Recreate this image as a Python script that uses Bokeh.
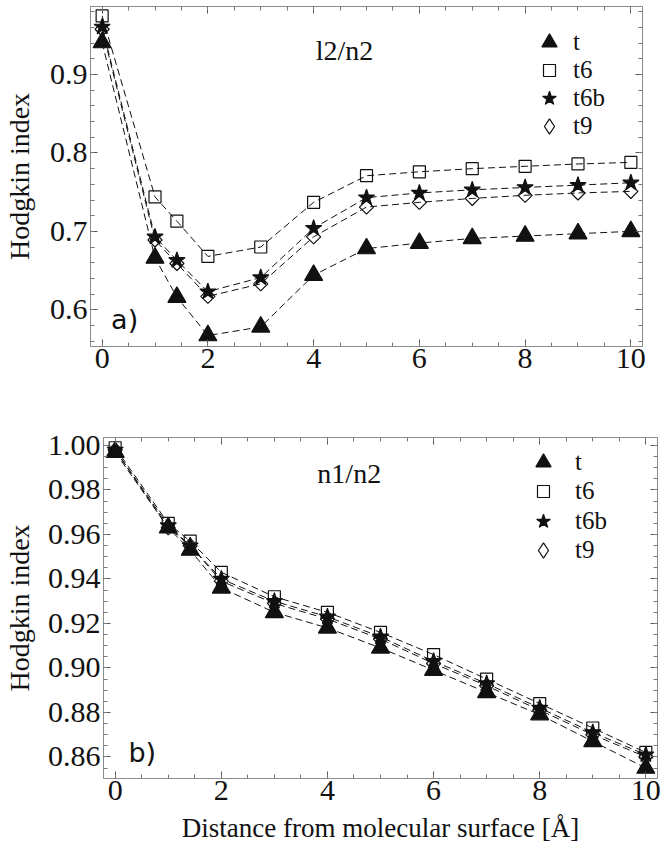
import math
from bokeh.plotting import figure
from bokeh.models import (LinearAxis, FixedTicker, PrintfTickFormatter, Legend, LegendItem,
                          Label, Range1d, CustomJSTickFormatter)
from bokeh.embed import file_html
from bokeh.resources import INLINE

# ---- data ----
distance = [0, 1, 1.414, 2, 3, 4, 5, 6, 7, 8, 9, 10]
series_names = ["t", "t6", "t6b", "t9"]

l2n2_t   = [0.941, 0.666, 0.616, 0.567, 0.578, 0.644, 0.678, 0.685, 0.691, 0.694, 0.697, 0.700]
l2n2_t6  = [0.975, 0.744, 0.713, 0.668, 0.680, 0.737, 0.771, 0.776, 0.780, 0.783, 0.786, 0.788]
l2n2_t6b = [0.961, 0.693, 0.663, 0.623, 0.641, 0.704, 0.743, 0.749, 0.753, 0.756, 0.759, 0.762]
l2n2_t9  = [0.958, 0.689, 0.659, 0.617, 0.633, 0.693, 0.731, 0.737, 0.742, 0.746, 0.749, 0.751]

n1n2_t   = [0.997, 0.963, 0.953, 0.936, 0.925, 0.918, 0.909, 0.899, 0.889, 0.879, 0.867, 0.855]
n1n2_t6  = [0.999, 0.965, 0.957, 0.943, 0.932, 0.925, 0.916, 0.906, 0.895, 0.884, 0.873, 0.862]
n1n2_t6b = [0.998, 0.964, 0.955, 0.940, 0.930, 0.923, 0.914, 0.903, 0.893, 0.882, 0.871, 0.861]
n1n2_t9  = [0.998, 0.963, 0.955, 0.939, 0.929, 0.922, 0.913, 0.902, 0.892, 0.881, 0.870, 0.860]

x_ticks = [0, 2, 4, 6, 8, 10]
x_minor = [i * 0.5 for i in range(-1, 22)]
top_y_ticks = [0.6, 0.7, 0.8, 0.9]
top_y_minor = [round(0.54 + 0.02 * i, 3) for i in range(0, 24)]
bot_y_ticks = [0.86, 0.88, 0.90, 0.92, 0.94, 0.96, 0.98, 1.00]
bot_y_minor = [round(0.845 + 0.005 * i, 4) for i in range(0, 34)]

SERIF = "Liberation Serif"
FRAME = "#8c8c8c"
INK = "#111111"

marker_styles = {
    "t":   dict(marker="triangle", size=18, fill_color=INK, angle=0.0),
    "t6":  dict(marker="square", size=12, fill_color=None, angle=0.0),
    "t6b": dict(marker="star", size=17, fill_color=INK, angle=0.0),
    "t9":  dict(marker="square", size=10, fill_color=None, angle=math.pi / 4),
}
legend_markers = {"t": "triangle", "t6": "square", "t6b": "star", "t9": "diamond"}
legend_glyph_px = {"t": 38, "t6": 30, "t6b": 36, "t9": 38}


def style_axis(ax):
    ax.axis_line_color = FRAME
    ax.major_tick_line_color = "#555555"
    ax.minor_tick_line_color = "#777777"
    ax.major_tick_in = 7
    ax.major_tick_out = 0
    ax.minor_tick_in = 4
    ax.minor_tick_out = 0
    ax.major_label_text_font = SERIF
    ax.major_label_text_font_size = "30px"
    ax.major_label_text_font_style = "normal"
    ax.major_label_text_color = INK
    ax.axis_label_text_font = SERIF
    ax.axis_label_text_font_size = "28px"
    ax.axis_label_text_font_style = "normal"
    ax.axis_label_text_color = INK


def make_panel(ys, yr, yt, ym, yfmt, height, borders, title_text, title_pos, panel_text,
               panel_pos, leg_x, leg_rows, leg_offset, xlabel, ylabel_standoff):
    b_left, b_right, b_top, b_bottom = borders
    p = figure(width=667, height=height, output_backend="svg", toolbar_location=None,
               x_range=Range1d(-0.22, 10.22), y_range=Range1d(*yr),
               min_border_left=b_left, min_border_right=b_right,
               min_border_top=b_top, min_border_bottom=b_bottom)
    p.xgrid.visible = False
    p.ygrid.visible = False
    p.outline_line_color = FRAME
    p.background_fill_color = "white"

    p.xaxis.ticker = FixedTicker(ticks=x_ticks, minor_ticks=x_minor)
    p.yaxis.ticker = FixedTicker(ticks=yt, minor_ticks=ym)
    p.yaxis.formatter = PrintfTickFormatter(format=yfmt)
    for ax in list(p.xaxis) + list(p.yaxis):
        style_axis(ax)
    p.xaxis.major_label_standoff = 2
    p.yaxis.major_label_standoff = 3
    p.yaxis.axis_label = "Hodgkin index"
    p.yaxis.axis_label_standoff = ylabel_standoff
    if xlabel:
        p.xaxis.axis_label = xlabel
        p.xaxis.axis_label_standoff = 10
        p.xaxis.axis_label_text_font_size = "27px"

    blank = CustomJSTickFormatter(code="return ''")
    top_ax = LinearAxis(ticker=FixedTicker(ticks=x_ticks, minor_ticks=x_minor), formatter=blank)
    right_ax = LinearAxis(ticker=FixedTicker(ticks=yt, minor_ticks=ym), formatter=blank)
    for ax in (top_ax, right_ax):
        style_axis(ax)
        ax.major_label_text_font_size = "1px"
        ax.major_label_standoff = 0
        ax.axis_label_standoff = 0
    p.add_layout(top_ax, "above")
    p.add_layout(right_ax, "right")

    for name, y in zip(series_names, ys):
        p.line(distance, y, line_color=INK, line_width=1, line_dash="7 4")
    for i, (name, y) in enumerate(zip(series_names, ys)):
        st = marker_styles[name]
        p.scatter(distance, y, marker=st["marker"], size=st["size"],
                  fill_color=st["fill_color"], line_color=INK,
                  angle=st["angle"], line_width=1.2)
        # legend-only renderer: one undefined (NaN) point, nothing is drawn in the plot area
        lr = p.scatter([distance[0]], [float("nan")], marker=legend_markers[name],
                       fill_color=st["fill_color"], line_color=INK, line_width=1.2)
        gpx = legend_glyph_px[name]
        leg = Legend(items=[LegendItem(label=name, renderers=[lr])],
                     location=(leg_x - gpx // 2, leg_rows[i] - gpx // 2),
                     border_line_alpha=0, background_fill_alpha=0, padding=0, margin=0,
                     spacing=0, glyph_width=gpx, glyph_height=gpx, label_height=20,
                     label_standoff=leg_offset - gpx // 2,
                     label_text_font=SERIF, label_text_font_size="25px",
                     label_text_color=INK)
        p.add_layout(leg, "center")

    p.add_layout(Label(x=title_pos[0], y=title_pos[1], text=title_text, text_font=SERIF,
                       text_font_size="28px", text_color=INK, text_baseline="alphabetic"))
    p.add_layout(Label(x=panel_pos[0], y=panel_pos[1], text=panel_text, text_font="DejaVu Sans",
                       text_font_size="27px", text_color=INK, text_baseline="alphabetic"))
    return p


# legend rows: glyph centre x (px from frame left) and y (px from frame bottom)
p1 = make_panel([l2n2_t, l2n2_t6, l2n2_t6b, l2n2_t9], (0.553, 0.987), top_y_ticks, top_y_minor,
                "%.1f", 390, (90, 25, 6, 44), "l2/n2", (4.04, 0.931), "a)", (0.17, 0.588),
                459, [304, 276, 248, 220], 24, None, 12)
p2 = make_panel([n1n2_t, n1n2_t6, n1n2_t6b, n1n2_t9], (0.8503, 1.0036), bot_y_ticks, bot_y_minor,
                "%.2f", 464, (103, 10, 47, 76), "n1/n2", (3.81, 0.9874), "b)", (0.25, 0.862),
                440, [316, 287, 257, 228], 32, "Distance from molecular surface [Å]", 10)

open("out.html", "w").write(file_html([p1, p2], INLINE))
